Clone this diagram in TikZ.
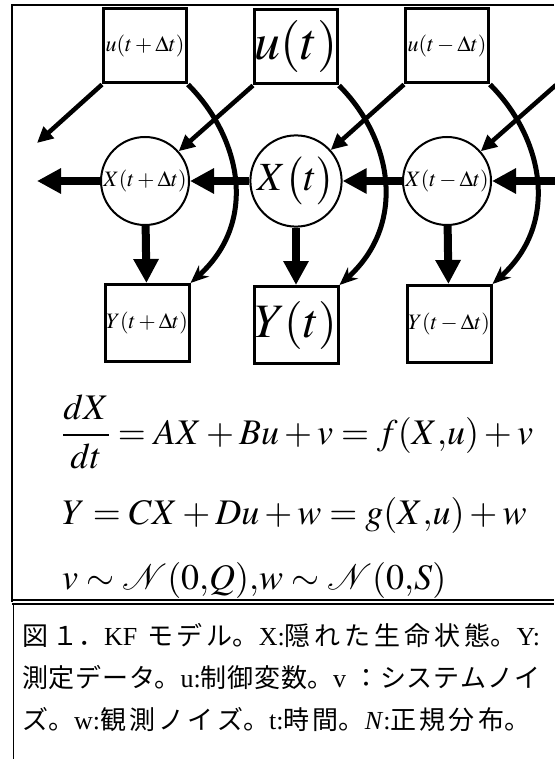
\documentclass[tikz,border=0pt]{standalone}
\usepackage{mathptmx}
\usepackage[no-math]{fontspec}
\setmainfont{Liberation Serif}
\newfontfamily\jpfont{Noto Sans CJK JP}
\XeTeXlinebreaklocale "ja"
\XeTeXlinebreakskip=0pt plus 4pt
\usetikzlibrary{arrows.meta}
\tikzset{
	ubox/.style={draw, line width=3pt, minimum width=83pt, minimum height=74pt,
		inner sep=0pt, font=\fontsize{22}{26}\selectfont},
	ybox/.style={ubox, minimum width=84pt, minimum height=77pt},
	xstate/.style={circle, draw, line width=2pt, minimum size=88pt,
		inner sep=0pt, font=\fontsize{22}{26}\selectfont},
	harr/.style={-{Triangle[length=24pt,width=24pt]}, line width=8pt},
	darr/.style={-{Triangle[length=16pt,width=15pt]}, line width=4.5pt},
	carr/.style={-{Stealth[length=18pt,width=15pt]}, line width=5pt},
	eqline/.style={anchor=base west, inner sep=0pt,
		font=\fontsize{36}{40}\selectfont},
	capline/.style={anchor=base west, inner sep=0pt, text width=518pt,
		align=justify, font=\fontsize{26}{30}\selectfont,
		execute at begin node={\parfillskip=0pt\relax}},
}

\begin{document}
\begin{tikzpicture}[x=1pt, y=-1pt]
	\useasboundingbox (0,0) rectangle (554,759);
	% frame
	\draw[line width=1.6pt] (554,5) -- (12,5) -- (12,602);
	\draw[line width=1.2pt] (12,600) -- (554,600);
	\draw[line width=1.2pt] (12,604) -- (554,604);
	\draw[line width=1pt] (13,604) -- (13,759);
	% hidden states
	\node[xstate] (xp) at (145,181) {$X(t+\Delta t)$};
	\node[xstate, font=\fontsize{40}{44}\selectfont] (xo) at (296,181) {$X\bigl(t\bigr)$};
	\node[xstate] (xm) at (447,181) {$X(t-\Delta t)$};
	% inputs
	\node[ubox] (up) at (145,46) {$u(t+\Delta t)$};
	\node[ubox, font=\fontsize{52}{56}\selectfont] (uo) at (296,47) {$u(t)$};
	\node[ubox] (um) at (447,46) {$u(t-\Delta t)$};
	% observations
	\node[ybox] (yp) at (147,323) {$Y(t+\Delta t)$};
	\node[ybox, font=\fontsize{48}{52}\selectfont] (yo) at (296,325) {$Y(t)$};
	\node[ybox] (ym) at (449,324) {$Y(t-\Delta t)$};
	\coordinate (hfree) at (37,181);
	\coordinate (dfree) at (37,143);
	\coordinate (hin) at (562,181);
	\coordinate (din) at (556,85);
	\draw[harr] (hin) -- (xm);
	\draw[harr] (xm) -- (xo);
	\draw[harr] (xo) -- (xp);
	\draw[harr] (xp) -- (hfree);
	\draw[harr] (xp) -- (yp);
	\draw[harr] (xo) -- (yo);
	\draw[harr] (xm) -- (ym);
	\draw[darr] (up.south west) -- (dfree);
	\draw[darr] (uo.south west) -- (xp);
	\draw[darr] (um.south west) -- (xo);
	\draw[darr] (din) -- (xm);
	\draw[carr] (up.south east) .. controls +(53,53) and +(68,-61) .. (yp.north east);
	\draw[carr] (uo.south east) .. controls +(53,53) and +(68,-61) .. (yo.north east);
	\draw[carr] (um.south east) .. controls +(53,53) and +(68,-61) .. (ym.north east);
	% model equations
	\node[eqline] (eq1) at (62,444) {$\displaystyle\frac{dX}{dt}=AX+Bu+v=f(X{,}u)+v$};
	\node[eqline] (eq2) at (62,524) {$Y=CX+Du+w=g(X{,}u)+w$};
	\node[eqline] (eq3) at (62,589) {$v\sim\mathcal{N}(0{,}Q){,}w\sim\mathcal{N}(0{,}S)$};
	% caption
	\node[capline] (cap1) at (22,645) {{\jpfont 図１．}KF {\jpfont モデル。}X:{\jpfont 隠れた生命状態。}Y:};
	\node[capline] (cap2) at (22,687) {{\jpfont 測定データ。}u:{\jpfont 制御変数。}v {\jpfont ：システムノイ}};
	\node[capline, text width=508pt] (cap3) at (22,729) {{\jpfont ズ。}w:{\jpfont 観測ノイズ。}t:{\jpfont 時間。}\textit{N}:{\jpfont 正規分布。}};
\end{tikzpicture}
\end{document}
